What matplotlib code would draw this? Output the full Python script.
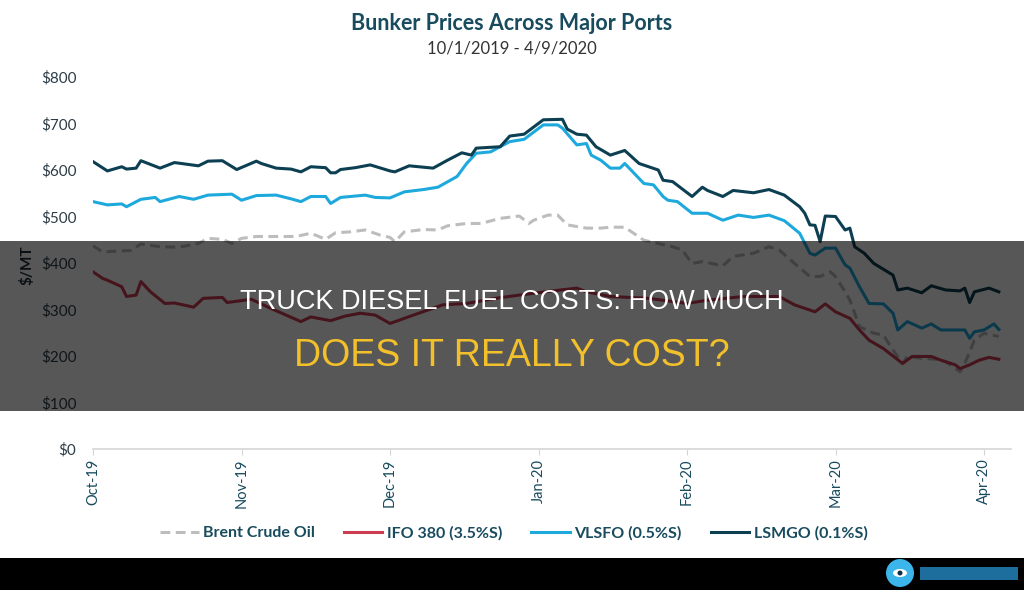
import calendar
import matplotlib
matplotlib.use("Agg")
import matplotlib.pyplot as plt
from matplotlib.patches import Rectangle, Ellipse
from matplotlib.lines import Line2D

# --- data ---
month_labels = ["Oct-19", "Nov-19", "Dec-19", "Jan-20", "Feb-20", "Mar-20", "Apr-20"]

lsmgo_dates = ["2019-10-01", "2019-10-04", "2019-10-07", "2019-10-08", "2019-10-10", "2019-10-11",
               "2019-10-15", "2019-10-18", "2019-10-23", "2019-10-25", "2019-10-28", "2019-10-31",
               "2019-11-04", "2019-11-05", "2019-11-08", "2019-11-11", "2019-11-13", "2019-11-15",
               "2019-11-18", "2019-11-19", "2019-11-20", "2019-11-21", "2019-11-24", "2019-11-27",
               "2019-12-01", "2019-12-02", "2019-12-05", "2019-12-10", "2019-12-13", "2019-12-16",
               "2019-12-18", "2019-12-19", "2019-12-24", "2019-12-26", "2019-12-29", "2020-01-02",
               "2020-01-06", "2020-01-07", "2020-01-09", "2020-01-11", "2020-01-13", "2020-01-14",
               "2020-01-16", "2020-01-19", "2020-01-22", "2020-01-26", "2020-01-27", "2020-01-29",
               "2020-02-02", "2020-02-04", "2020-02-05", "2020-02-08", "2020-02-10", "2020-02-14",
               "2020-02-17", "2020-02-20", "2020-02-23", "2020-02-24", "2020-02-25", "2020-02-26",
               "2020-02-27", "2020-02-28", "2020-03-01", "2020-03-03", "2020-03-04", "2020-03-05",
               "2020-03-07", "2020-03-09", "2020-03-13", "2020-03-14", "2020-03-16", "2020-03-19",
               "2020-03-21", "2020-03-24", "2020-03-27", "2020-03-28", "2020-03-29", "2020-03-30",
               "2020-04-02", "2020-04-04"]
lsmgo = [618, 598, 607, 602, 604, 620, 604, 616, 609, 619, 620, 601,
         619, 614, 604, 602, 596, 607, 605, 594, 594, 601, 605, 611,
         598, 596, 609, 604, 621, 637, 632, 647, 650, 673, 677, 708,
         709, 688, 677, 675, 650, 644, 632, 642, 614, 600, 578, 575,
         543, 563, 556, 543, 556, 551, 558, 546, 521, 507, 482, 481,
         446, 501, 500, 471, 475, 435, 421, 399, 374, 342, 346, 336,
         351, 342, 340, 346, 315, 338, 346, 338]

vlsfo_dates = ["2019-10-01", "2019-10-04", "2019-10-07", "2019-10-08", "2019-10-11", "2019-10-14",
               "2019-10-15", "2019-10-19", "2019-10-22", "2019-10-25", "2019-10-30", "2019-11-01",
               "2019-11-04", "2019-11-08", "2019-11-11", "2019-11-13", "2019-11-15", "2019-11-18",
               "2019-11-19", "2019-11-21", "2019-11-26", "2019-11-28", "2019-12-01", "2019-12-04",
               "2019-12-08", "2019-12-11", "2019-12-15", "2019-12-17", "2019-12-19", "2019-12-22",
               "2019-12-26", "2019-12-29", "2020-01-02", "2020-01-05", "2020-01-06", "2020-01-09",
               "2020-01-11", "2020-01-12", "2020-01-14", "2020-01-16", "2020-01-18", "2020-01-19",
               "2020-01-23", "2020-01-25", "2020-01-27", "2020-01-28", "2020-01-30", "2020-02-02",
               "2020-02-05", "2020-02-08", "2020-02-11", "2020-02-14", "2020-02-17", "2020-02-20",
               "2020-02-23", "2020-02-25", "2020-02-26", "2020-02-28", "2020-03-01", "2020-03-03",
               "2020-03-04", "2020-03-06", "2020-03-08", "2020-03-11", "2020-03-13", "2020-03-14",
               "2020-03-16", "2020-03-19", "2020-03-21", "2020-03-23", "2020-03-28", "2020-03-29",
               "2020-03-30", "2020-04-01", "2020-04-03", "2020-04-04"]
vlsfo = [532, 525, 527, 521, 537, 541, 532, 543, 537, 546, 548, 535,
         545, 546, 538, 532, 543, 543, 528, 541, 546, 541, 540, 553,
         558, 563, 586, 614, 636, 639, 661, 666, 697, 697, 690, 654,
         657, 632, 621, 604, 604, 614, 571, 568, 543, 535, 532, 507,
         507, 492, 503, 498, 503, 491, 464, 421, 417, 432, 432, 396,
         389, 349, 313, 312, 292, 256, 274, 260, 269, 256, 256, 238,
         252, 256, 269, 257]

brent_dates = ["2019-10-01", "2019-10-03", "2019-10-09", "2019-10-11", "2019-10-15", "2019-10-19",
               "2019-10-23", "2019-10-25", "2019-10-28", "2019-10-30", "2019-11-01", "2019-11-04",
               "2019-11-08", "2019-11-12", "2019-11-15", "2019-11-18", "2019-11-20", "2019-11-23",
               "2019-11-26", "2019-11-29", "2019-12-01", "2019-12-02", "2019-12-04", "2019-12-08",
               "2019-12-11", "2019-12-13", "2019-12-17", "2019-12-20", "2019-12-24", "2019-12-28",
               "2019-12-30", "2019-12-31", "2020-01-03", "2020-01-05", "2020-01-07", "2020-01-11",
               "2020-01-14", "2020-01-16", "2020-01-19", "2020-01-23", "2020-01-26", "2020-01-29",
               "2020-01-31", "2020-02-02", "2020-02-04", "2020-02-08", "2020-02-10", "2020-02-14",
               "2020-02-17", "2020-02-19", "2020-02-22", "2020-02-25", "2020-02-27", "2020-02-29",
               "2020-03-01", "2020-03-03", "2020-03-04", "2020-03-05", "2020-03-06", "2020-03-09",
               "2020-03-11", "2020-03-13", "2020-03-15", "2020-03-16", "2020-03-19", "2020-03-22",
               "2020-03-24", "2020-03-27", "2020-03-28", "2020-03-30", "2020-04-01", "2020-04-04"]
brent = [437, 424, 427, 441, 435, 434, 442, 453, 451, 442, 453, 457,
         457, 457, 464, 451, 465, 467, 471, 460, 455, 446, 467, 472,
         471, 480, 485, 485, 496, 501, 485, 492, 503, 503, 482, 475,
         475, 477, 477, 449, 442, 435, 428, 399, 403, 394, 414, 421,
         435, 428, 399, 371, 371, 381, 371, 338, 320, 292, 263, 249,
         245, 213, 184, 199, 195, 193, 188, 166, 184, 234, 249, 242]

ifo_dates = ["2019-10-01", "2019-10-03", "2019-10-04", "2019-10-07", "2019-10-08", "2019-10-10",
             "2019-10-11", "2019-10-13", "2019-10-16", "2019-10-18", "2019-10-22", "2019-10-24",
             "2019-10-28", "2019-10-29", "2019-11-03", "2019-11-07", "2019-11-13", "2019-11-15",
             "2019-11-19", "2019-11-22", "2019-11-25", "2019-11-28", "2019-12-01", "2019-12-07",
             "2019-12-12", "2019-12-17", "2019-12-23", "2019-12-28", "2020-01-04", "2020-01-09",
             "2020-01-11", "2020-01-16", "2020-01-24", "2020-02-01", "2020-02-05", "2020-02-12",
             "2020-02-19", "2020-02-22", "2020-02-26", "2020-02-28", "2020-03-01", "2020-03-04",
             "2020-03-06", "2020-03-08", "2020-03-11", "2020-03-15", "2020-03-17", "2020-03-21",
             "2020-03-23", "2020-03-26", "2020-03-27", "2020-03-29", "2020-03-31", "2020-04-02",
             "2020-04-04"]
ifo = [381, 367, 363, 349, 328, 331, 360, 338, 313, 314, 305, 324,
       326, 315, 322, 302, 274, 284, 276, 286, 292, 288, 270, 292,
       310, 313, 324, 331, 340, 346, 338, 328, 324, 313, 320, 328,
       328, 310, 295, 312, 295, 281, 256, 234, 216, 184, 199, 199,
       191, 181, 173, 181, 191, 197, 193]


def month_pos(d):
    # months on this axis are drawn with equal width
    y, m, day = (int(p) for p in d.split("-"))
    ndays = calendar.monthrange(y, m)[1]
    return (y - 2019) * 12 + (m - 10) + (day - 1) / ndays


W, H = 1024, 590
fig = plt.figure(figsize=(W / 100, H / 100), dpi=100)
fig.patch.set_facecolor("white")

ax = fig.add_axes([93 / W, 1 - 449 / H, (1011 - 93) / W, (449 - 77) / H])

c_brent = "#bdbdbd"
c_ifo = "#cc3d52"
c_vlsfo = "#1ea9dd"
c_lsmgo = "#0c3f52"
teal = "#184b5e"
lw = 2.2
dash = (0, (3.2, 1.8))

ax.plot([month_pos(d) for d in brent_dates], brent, color=c_brent, lw=lw, ls=dash)
ax.plot([month_pos(d) for d in ifo_dates], ifo, color=c_ifo, lw=lw)
ax.plot([month_pos(d) for d in vlsfo_dates], vlsfo, color=c_vlsfo, lw=lw)
ax.plot([month_pos(d) for d in lsmgo_dates], lsmgo, color=c_lsmgo, lw=lw)

ax.set_ylim(0, 800)
ax.set_xlim(0, (1011 - 93) / 148.5)
ax.set_yticks(range(0, 801, 100))
ax.set_yticklabels(["${}".format(v) for v in range(0, 801, 100)])
ax.set_xticks(range(len(month_labels)))
ax.set_xticklabels(month_labels, rotation=90)

for s in ["top", "right", "left"]:
    ax.spines[s].set_visible(False)
ax.spines["bottom"].set_color("#d6d6d6")
ax.spines["bottom"].set_linewidth(1.2)
ax.tick_params(axis="y", length=0, pad=12, labelsize=11, labelcolor="#2c3d48")
ax.tick_params(axis="x", length=4, color="#d6d6d6", pad=3, labelsize=10.5, labelcolor=teal)
for t in ax.get_yticklabels() + ax.get_xticklabels():
    t.set_fontfamily("Lato")

fig.text(27 / W, 1 - 265 / H, "$/MT", rotation=90, ha="center", va="center",
         fontsize=11, fontweight="bold", color="#1d2f3a", family="Lato")

fig.text(0.5, 1 - 24 / H, "Bunker Prices Across Major Ports", ha="center", va="center",
         fontsize=15.5, fontweight="bold", color=teal, family="Lato")
fig.text(0.5, 1 - 48 / H, "10/1/2019 - 4/9/2020", ha="center", va="center",
         fontsize=12, color="#333333", family="Lato")

handles = [
    Line2D([], [], color=c_brent, lw=lw, ls=dash),
    Line2D([], [], color=c_ifo, lw=lw),
    Line2D([], [], color=c_vlsfo, lw=lw),
    Line2D([], [], color=c_lsmgo, lw=lw),
]
labels = ["Brent Crude Oil", "IFO 380 (3.5%S)", "VLSFO (0.5%S)", "LSMGO (0.1%S)"]
leg = fig.legend(handles, labels, loc="center", bbox_to_anchor=(514 / W, 1 - 533 / H),
                 ncol=4, frameon=False, handlelength=2.4, handletextpad=0.3,
                 columnspacing=1.8, prop={"family": "Lato", "weight": "bold", "size": 11.5})
for t in leg.get_texts():
    t.set_color(teal)

# dark banner over the middle of the chart
fig.add_artist(Rectangle((0, 1 - 411 / H), 1, (411 - 241) / H, transform=fig.transFigure,
                         facecolor="black", alpha=0.66, edgecolor="none", zorder=5))
fig.text(0.5, 1 - 302 / H, "TRUCK DIESEL FUEL COSTS: HOW MUCH", ha="center", va="center",
         fontsize=19.5, color="white", family="Liberation Sans", zorder=6)
fig.text(0.5, 1 - 356 / H, "DOES IT REALLY COST?", ha="center", va="center",
         fontsize=27, color="#f2c02a", family="Liberation Sans", zorder=6)

# black strip with logo at the bottom
fig.add_artist(Rectangle((0, 0), 1, 32 / H, transform=fig.transFigure,
                         facecolor="black", edgecolor="none", zorder=5))
fig.add_artist(Ellipse((900 / W, 1 - 573 / H), 28 / W, 28 / H, transform=fig.transFigure,
                       facecolor="#3cb6ea", edgecolor="none", zorder=6))
fig.add_artist(Ellipse((900 / W, 1 - 573 / H), 14 / W, 8 / H, transform=fig.transFigure,
                       facecolor="white", edgecolor="none", zorder=7))
fig.add_artist(Ellipse((900 / W, 1 - 573 / H), 5 / W, 5 / H, transform=fig.transFigure,
                       facecolor="#0c2f45", edgecolor="none", zorder=8))
fig.add_artist(Rectangle((920 / W, 1 - 580 / H), 98 / W, 13 / H, transform=fig.transFigure,
                         facecolor="#1d6e9c", edgecolor="none", zorder=6))

fig.savefig("out.png", dpi=100)
